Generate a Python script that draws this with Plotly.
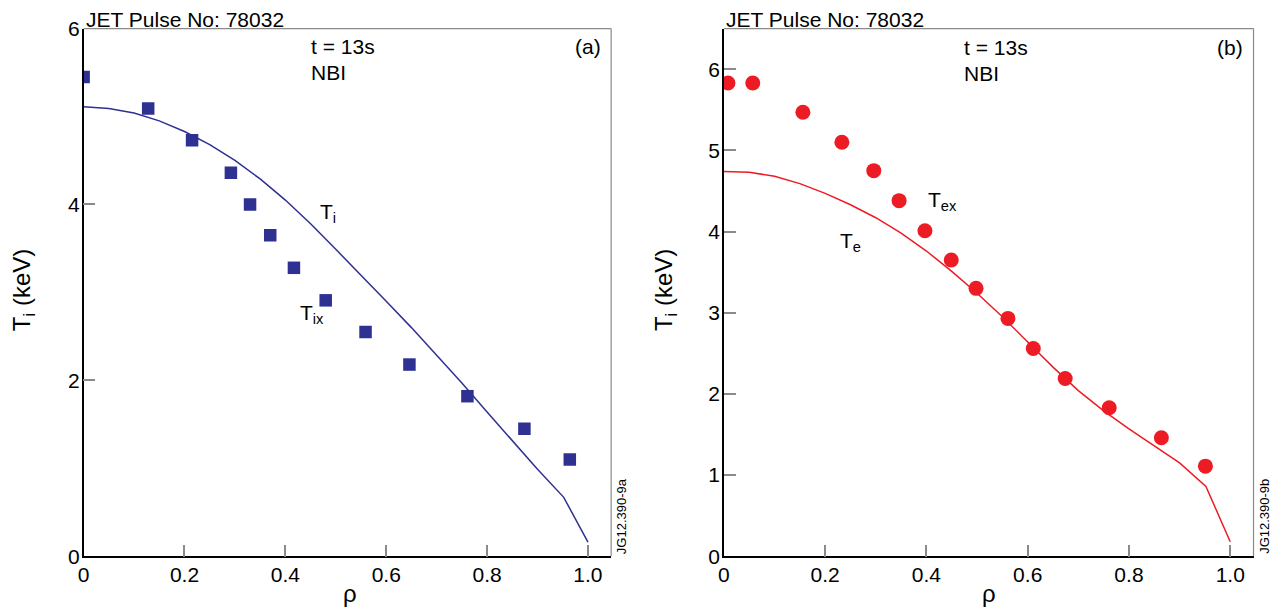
import plotly.graph_objects as go

# ---- data (panel a) ----
rho_tix = [0.0, 0.128, 0.215, 0.292, 0.33, 0.37, 0.417, 0.48, 0.559, 0.646, 0.761, 0.874, 0.964]
tix = [5.45, 5.09, 4.73, 4.36, 4.00, 3.65, 3.28, 2.91, 2.55, 2.18, 1.82, 1.45, 1.10]
rho_ti = [0.0, 0.05, 0.1, 0.15, 0.2, 0.25, 0.3, 0.35, 0.4, 0.45, 0.5, 0.55, 0.6, 0.65, 0.7,
          0.75, 0.8, 0.85, 0.9, 0.952, 1.0]
ti = [5.11, 5.09, 5.04, 4.95, 4.83, 4.68, 4.50, 4.29, 4.05, 3.78, 3.49, 3.20, 2.90, 2.60, 2.29,
      1.97, 1.64, 1.31, 0.99, 0.67, 0.16]

# ---- data (panel b) ----
rho_tex = [0.008, 0.057, 0.156, 0.233, 0.296, 0.346, 0.397, 0.449, 0.498, 0.561, 0.611, 0.674, 0.761, 0.864, 0.951]
tex = [5.83, 5.83, 5.47, 5.10, 4.75, 4.38, 4.01, 3.65, 3.30, 2.93, 2.56, 2.19, 1.83, 1.46, 1.11]
rho_te = [0.0, 0.05, 0.1, 0.15, 0.2, 0.25, 0.3, 0.35, 0.4, 0.45, 0.5, 0.55, 0.6, 0.65, 0.7,
          0.75, 0.8, 0.85, 0.9, 0.952, 1.0]
te = [4.74, 4.73, 4.68, 4.59, 4.47, 4.33, 4.17, 3.98, 3.76, 3.51, 3.24, 2.95, 2.64, 2.33, 2.04,
      1.79, 1.57, 1.36, 1.15, 0.86, 0.18]

x_ticks = [0, 0.2, 0.4, 0.6, 0.8, 1.0]
x_ticklabels = ["0", "0.2", "0.4", "0.6", "0.8", "1.0"]
ya_ticks = [0, 2, 4, 6]
yb_ticks = [0, 1, 2, 3, 4, 5, 6]

BLUE = "#2e3192"
RED = "#ed1c24"
GRAY = "#8a8a8a"
FONT = "Liberation Sans, Arial, sans-serif"
TICKFONT = "Liberation Sans Narrow, Liberation Sans, Arial, sans-serif"

W, H = 1279, 616
TOP, BOT = 17.2, 565.4

fig = go.Figure()
fig.add_trace(go.Scatter(x=rho_ti, y=ti, mode="lines", line=dict(color=BLUE, width=1.5),
                         xaxis="x", yaxis="y", showlegend=False))
fig.add_trace(go.Scatter(x=rho_tix, y=tix, mode="markers",
                         marker=dict(symbol="square", size=12.5, color=BLUE),
                         xaxis="x", yaxis="y", showlegend=False))
fig.add_trace(go.Scatter(x=rho_te, y=te, mode="lines", line=dict(color=RED, width=1.5),
                         xaxis="x2", yaxis="y2", showlegend=False))
fig.add_trace(go.Scatter(x=rho_tex, y=tex, mode="markers",
                         marker=dict(symbol="circle", size=15, color=RED),
                         xaxis="x2", yaxis="y2", showlegend=False))

ydom = [1 - BOT / H, 1 - TOP / H]
axis_common = dict(showgrid=False, zeroline=False, showline=True, linecolor="black", linewidth=1.5,
                   ticks="inside", ticklen=12, tickcolor=GRAY, tickwidth=1.5,
                   tickfont=dict(family=TICKFONT, size=21, color="black"))

fig.update_layout(
    width=W, height=H,
    margin=dict(l=0, r=0, t=0, b=0),
    paper_bgcolor="white", plot_bgcolor="white",
    font=dict(family=FONT, color="black"),
    xaxis=dict(domain=[78 / W, 608 / W], range=[0, 1.046], tickvals=x_ticks,
               ticktext=x_ticklabels, anchor="y", ticklabelstandoff=-1, **axis_common),
    yaxis=dict(domain=ydom, range=[0, 6], tickvals=ya_ticks, anchor="x",
               ticklabelstandoff=-2, **axis_common),
    xaxis2=dict(domain=[721.3 / W, 1253.4 / W], range=[0, 1.046], tickvals=x_ticks,
                ticktext=x_ticklabels, anchor="y2", ticklabelstandoff=-1, **axis_common),
    yaxis2=dict(domain=ydom, range=[0, 6.5], tickvals=yb_ticks, anchor="x2",
                ticklabelstandoff=-2, **axis_common),
)

# gray top/right frame edges
for xr, yr in [("x domain", "y domain"), ("x2 domain", "y2 domain")]:
    fig.add_shape(type="line", xref=xr, yref=yr, x0=0, x1=1, y0=1, y1=1,
                  line=dict(color=GRAY, width=1.2))
    fig.add_shape(type="line", xref=xr, yref=yr, x0=1, x1=1, y0=0, y1=1,
                  line=dict(color=GRAY, width=1.2))

ann = []
def txt(x, y, t, xref, yref, size=21, xanchor="left", yanchor="middle", angle=0, family=FONT):
    ann.append(dict(x=x, y=y, text=t, xref=xref, yref=yref, showarrow=False,
                    xanchor=xanchor, yanchor=yanchor, textangle=angle,
                    font=dict(family=family, size=size, color="black")))

# panel a
txt(78 / W, 1 - 7.5 / H, "JET Pulse No: 78032", "paper", "paper")
txt(0.447, 5.80, "t = 13s", "x", "y")
txt(0.447, 5.50, "NBI", "x", "y")
txt(1.0, 5.80, "(a)", "x", "y", xanchor="center")
txt(0.465, 3.90, "T<sub>i</sub>", "x", "y")
txt(0.425, 2.75, "T<sub>ix</sub>", "x", "y")
txt(17 / W, 1 - 289 / H, "T<sub>i</sub> (keV)", "paper", "paper", size=24, xanchor="center", angle=-90)
txt(346 / W, 1 - 604 / H, "ρ", "paper", "paper", size=24, xanchor="center")
txt(617.8 / W, 1 - BOT / H, "JG12.390-9a", "paper", "paper", size=13, xanchor="center",
    yanchor="bottom", angle=-90)

# panel b
txt(721.3 / W, 1 - 7.5 / H, "JET Pulse No: 78032", "paper", "paper")
txt(0.47, 6.27, "t = 13s", "x2", "y2")
txt(0.47, 5.95, "NBI", "x2", "y2")
txt(1.0, 6.27, "(b)", "x2", "y2", xanchor="center")
txt(0.225, 3.87, "T<sub>e</sub>", "x2", "y2")
txt(0.4, 4.38, "T<sub>ex</sub>", "x2", "y2")
txt(662 / W, 1 - 289 / H, "T<sub>i</sub> (keV)", "paper", "paper", size=24, xanchor="center", angle=-90)
txt(988 / W, 1 - 604 / H, "ρ", "paper", "paper", size=24, xanchor="center")
txt(1265 / W, 1 - BOT / H, "JG12.390-9b", "paper", "paper", size=13, xanchor="center",
    yanchor="bottom", angle=-90)

fig.update_layout(annotations=ann)
fig.write_html("out.html", config={"displayModeBar": False},
               post_script="document.body.style.margin='0';")
